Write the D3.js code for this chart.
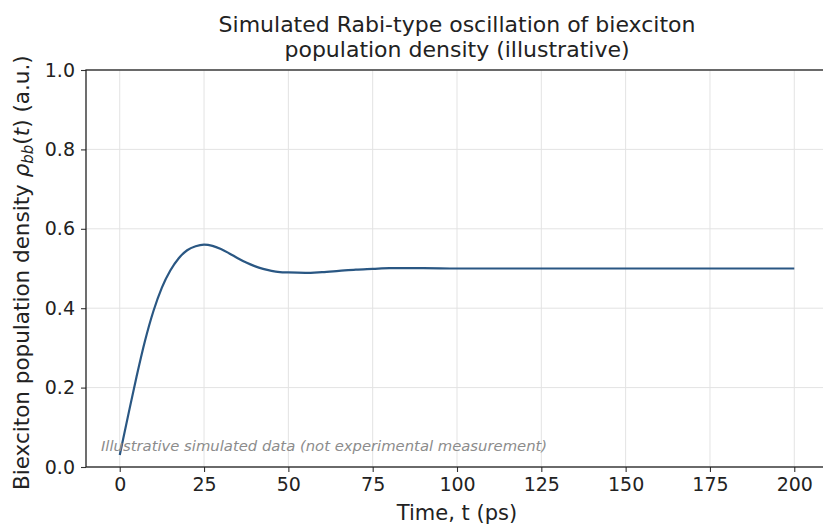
<!DOCTYPE html>
<html>
<head>
<meta charset="utf-8">
<script src="https://cdn.jsdelivr.net/npm/d3@7"></script>
<style>
  body { margin: 0; background: #fff; }
  text { font-family: "DejaVu Sans", sans-serif; fill: #222; }
</style>
</head>
<body>
<div id="chart"></div>
<script>
// données
const timePs = [0, 2.5, 5, 7.5, 10, 12.5, 15, 17.5, 20, 22.5, 25, 27.5, 30, 32.5, 35, 37.5, 40,
    42.5, 45, 47.5, 50, 55, 60, 65, 70, 75, 80, 85, 90, 100, 110, 120, 130, 140, 150, 160, 170, 180, 190, 200];
const rhoBB = [0.03, 0.13, 0.228, 0.318, 0.393, 0.452, 0.495, 0.526, 0.546, 0.556, 0.560, 0.557, 0.549,
    0.538, 0.526, 0.515, 0.506, 0.499, 0.494, 0.491, 0.490, 0.489, 0.491, 0.494, 0.497, 0.499, 0.501,
    0.501, 0.501, 0.500, 0.500, 0.500, 0.500, 0.500, 0.500, 0.500, 0.500, 0.500, 0.500, 0.500];
const xTicks = [0, 25, 50, 75, 100, 125, 150, 175, 200];
const yTicks = [0.0, 0.2, 0.4, 0.6, 0.8, 1.0];

const width = 823, height = 526;
const margin = {left: 86, top: 70, right: -5, bottom: 59};

const svg = d3.select("#chart").append("svg")
    .attr("width", width)
    .attr("height", height);

const x = d3.scaleLinear().domain([-10, 210]).range([margin.left, width - margin.right]);
const y = d3.scaleLinear().domain([0, 1]).range([height - margin.bottom, margin.top]);

// grille
const grid = svg.append("g");
grid.selectAll(".gx").data(xTicks).enter().append("line")
    .attr("x1", d => x(d)).attr("x2", d => x(d))
    .attr("y1", y(0)).attr("y2", y(1))
    .attr("stroke", "#e3e3e3").attr("stroke-width", 1);
grid.selectAll(".gy").data(yTicks).enter().append("line")
    .attr("x1", x(-10)).attr("x2", x(210))
    .attr("y1", d => y(d)).attr("y2", d => y(d))
    .attr("stroke", "#e3e3e3").attr("stroke-width", 1);

// courbe
const line = d3.line()
    .x((d, i) => x(timePs[i]))
    .y(d => y(d))
    .curve(d3.curveMonotoneX);
svg.append("path")
    .datum(rhoBB)
    .attr("d", line)
    .attr("fill", "none")
    .attr("stroke", "#2a5783")
    .attr("stroke-width", 2.2);

// axes
const xAxis = svg.append("g")
    .attr("transform", `translate(0,${y(0)})`)
    .call(d3.axisBottom(x).tickValues(xTicks).tickSize(5).tickPadding(6).tickFormat(d3.format("d")));
const yAxis = svg.append("g")
    .attr("transform", `translate(${x(-10)},0)`)
    .call(d3.axisLeft(y).tickValues(yTicks).tickSize(5).tickPadding(6).tickFormat(d3.format(".1f")));
[xAxis, yAxis].forEach(a => {
    a.select(".domain").remove();
    a.selectAll("line").attr("stroke", "#333").attr("stroke-width", 1.1);
    a.selectAll("text").style("font-size", "19px").attr("fill", "#222");
});

// cadre
svg.append("rect")
    .attr("x", x(-10)).attr("y", y(1))
    .attr("width", x(210) - x(-10)).attr("height", y(0) - y(1))
    .attr("fill", "none").attr("stroke", "#222").attr("stroke-width", 1.3);

// annotation
svg.append("text")
    .attr("x", 101).attr("y", 451)
    .style("font-size", "14.8px").style("font-style", "italic")
    .style("fill", "#8c8c8c")
    .text("Illustrative simulated data (not experimental measurement)");

// titre
const cx = (x(-10) + x(210)) / 2;
const title = svg.append("text").attr("text-anchor", "middle").style("font-size", "22px");
title.append("tspan").attr("x", cx).attr("y", 32).text("Simulated Rabi-type oscillation of biexciton");
title.append("tspan").attr("x", cx).attr("y", 57).text("population density (illustrative)");

// titres des axes
svg.append("text")
    .attr("x", cx).attr("y", 520)
    .attr("text-anchor", "middle").style("font-size", "21px")
    .text("Time, t (ps)");

const yl = svg.append("text")
    .attr("transform", `translate(29,490) rotate(-90)`)
    .style("font-size", "21.5px");
yl.append("tspan").text("Biexciton population density ");
yl.append("tspan").style("font-style", "italic").text("ρ");
yl.append("tspan").style("font-style", "italic").style("font-size", "15px").attr("dy", 4).text("bb");
yl.append("tspan").attr("dy", -4).text("(");
yl.append("tspan").style("font-style", "italic").text("t");
yl.append("tspan").text(") (a.u.)");
</script>
</body>
</html>
